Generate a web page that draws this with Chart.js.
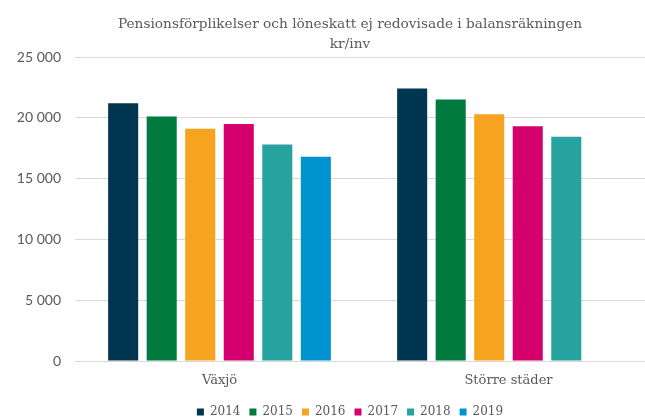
<!DOCTYPE html>
<html lang="sv">
<head>
  <meta charset="UTF-8">
  <title>Pensionsförplikelser och löneskatt</title>
  <script src="https://cdn.jsdelivr.net/npm/chart.js"></script>
  <style>
    html, body { margin: 0; padding: 0; overflow: hidden; background: #fff; }
    /* the original chart is wider/taller than the window and gets cropped */
    #wrap { width: 700px; height: 428px; }
  </style>
</head>
<body>
<div id="wrap"><canvas id="chart"></canvas></div>
<script>
// data
const categories = ['Växjö', 'Större städer'];
const years = ['2014', '2015', '2016', '2017', '2018', '2019'];
const v2014 = [21200, 22400];
const v2015 = [20100, 21500];
const v2016 = [19100, 20300];
const v2017 = [19500, 19300];
const v2018 = [17800, 18450];
const v2019 = [16800, null];
const yTicks = [0, 5000, 10000, 15000, 20000, 25000];

const colors = ['#003650', '#007A3D', '#F6A41F', '#D4006E', '#26A39F', '#0093D0'];
const series = [v2014, v2015, v2016, v2017, v2018, v2019];

const serif = "'DejaVu Serif', serif";
const grey = '#595959';

function fmt(n) {
  return String(n).replace(/\B(?=(\d{3})+(?!\d))/g, ' ');
}

new Chart(document.getElementById('chart'), {
  type: 'bar',
  data: {
    labels: categories,
    datasets: years.map((y, i) => ({
      label: y,
      data: series[i],
      backgroundColor: colors[i],
      borderWidth: 0,
      categoryPercentage: 0.8,
      barPercentage: 0.78
    }))
  },
  options: {
    responsive: true,
    maintainAspectRatio: false,
    animation: false,
    plugins: {
      title: {
        display: true,
        text: ['Pensionsförplikelser och löneskatt ej redovisade i balansräkningen', 'kr/inv'],
        color: grey,
        font: { family: serif, size: 13.7, weight: 'normal', lineHeight: 1.46 },
        padding: { top: 14, bottom: 3 }
      },
      legend: {
        position: 'bottom',
        labels: {
          color: grey,
          font: { family: serif, size: 12 },
          boxWidth: 7,
          boxHeight: 7,
          padding: 9
        }
      },
      tooltip: { enabled: false }
    },
    scales: {
      x: {
        afterFit: s => { s.height -= 4; },
        grid: { display: false, drawTicks: false },
        border: { color: '#D9D9D9', width: 1 },
        ticks: { color: grey, font: { family: serif, size: 13, lineHeight: 0.46 }, padding: 17 }
      },
      y: {
        min: 0,
        max: 25000,
        afterBuildTicks: s => { s.ticks = yTicks.map(v => ({ value: v })); },
        afterFit: s => { s.width = 75; },
        grid: { color: '#D9D9D9', drawTicks: false },
        border: { display: false },
        ticks: {
          color: grey,
          font: { family: 'Lato, sans-serif', size: 14 },
          padding: 14,
          callback: v => fmt(v)
        }
      },
      y2: {
        position: 'right',
        display: true,
        grid: { display: false },
        border: { display: false },
        ticks: { display: false },
        afterFit: s => { s.width = 47; }
      }
    }
  }
});
</script>
</body>
</html>
